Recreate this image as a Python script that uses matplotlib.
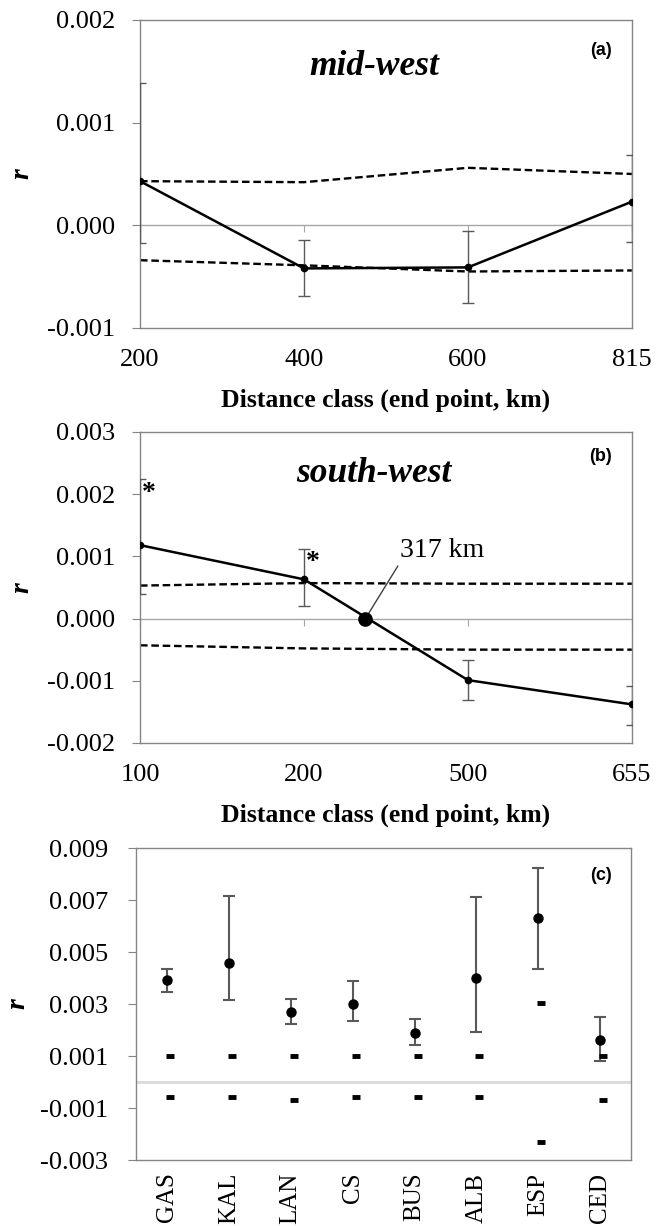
#Recreates the three-panel spatial autocorrelation figure:
#(a) mid-west and (b) south-west correlograms, (c) r per population
import matplotlib.pyplot as plt
import matplotlib.transforms as mtransforms
import matplotlib.ticker as ticker
import numpy as np

plt.rcParams['font.family'] = ['Liberation Serif', 'DejaVu Serif']

# (a) mid-west correlogram
mw_classes = ['200', '400', '600', '815']
mw_r = [0.00043, -0.00042, -0.00041, 0.00023]
mw_err_hi = [0.00139, -0.00014, -0.00006, 0.00068]
mw_err_lo = [-0.00017, -0.00069, -0.00076, -0.00016]
mw_upper = [0.00043, 0.00042, 0.00056, 0.00050]
mw_lower = [-0.00034, -0.00039, -0.00045, -0.00044]
mw_yticks = [-0.001, 0.0, 0.001, 0.002]

# (b) south-west correlogram
sw_classes = ['100', '200', '500', '655']
sw_r = [0.00118, 0.00063, -0.00099, -0.00138]
sw_err_hi = [0.00224, 0.00112, -0.00066, -0.00108]
sw_err_lo = [0.00040, 0.00020, -0.00131, -0.00171]
sw_upper = [0.00053, 0.00057, 0.00056, 0.00056]
sw_lower = [-0.00043, -0.00048, -0.00050, -0.00050]
sw_yticks = [-0.002, -0.001, 0.0, 0.001, 0.002, 0.003]
sw_cross = 1.375      #x-intercept on the class axis
sw_cross_label = '317 km'
sw_signif = [0, 1]    #classes marked with *

# (c) r per population
pops = ['GAS', 'KAL', 'LAN', 'CS', 'BUS', 'ALB', 'ESP', 'CED']
pop_r = [0.00392, 0.00457, 0.00269, 0.00302, 0.00190, 0.00401, 0.00629, 0.00161]
pop_hi = [0.00436, 0.00717, 0.00319, 0.00389, 0.00243, 0.00713, 0.00823, 0.00252]
pop_lo = [0.00346, 0.00316, 0.00224, 0.00234, 0.00143, 0.00192, 0.00436, 0.00079]
pop_upper = [0.00100, 0.00100, 0.00100, 0.00100, 0.00100, 0.00100, 0.00303, 0.00100]
pop_lower = [-0.00059, -0.00059, -0.00069, -0.00059, -0.00059, -0.00059, -0.00229, -0.00069]
pop_yticks = [-0.003, -0.001, 0.001, 0.003, 0.005, 0.007, 0.009]

spine_gray = '#858585'
err_gray = '#595959'
dash = (0, (3.2, 1.6))
fmt3 = ticker.FuncFormatter(lambda v, pos: '%.3f' % (round(v, 6) + 0.0))

fig = plt.figure(figsize=(6.62, 12.26), dpi=100)


def style_axes(ax, yticks):
    for sp in ax.spines.values():
        sp.set_color(spine_gray)
        sp.set_linewidth(1)
    ax.set_ylim(yticks[0], yticks[-1])
    ax.set_yticks(yticks)
    ax.yaxis.set_major_formatter(fmt3)
    ax.tick_params(axis='y', length=6, color=spine_gray, labelsize=19, pad=12)
    ax.tick_params(axis='x', length=0, labelsize=19)


def correlogram(ax, classes, r, hi, lo, upper, lower, yticks, title, tag, title_y, tag_y):
    x = np.arange(len(classes))
    r = np.array(r)
    yerr = [r - np.array(lo), np.array(hi) - r]
    style_axes(ax, yticks)

    ax.axhline(0, color='#a6a6a6', lw=1, zorder=1)
    ax.plot(x, upper, color='k', lw=1.7, ls=dash, zorder=2)
    ax.plot(x, lower, color='k', lw=1.7, ls=dash, zorder=2)
    ax.errorbar(x, r, yerr=yerr, fmt='none', ecolor=err_gray, elinewidth=1,
                capsize=4.5, capthick=1, zorder=3)
    ax.plot(x, r, color='k', lw=1.8, marker='o', ms=4.5, zorder=4)
    ax.set_xlim(0, len(classes) - 1)

    ax.set_xticks(x)
    ax.set_xticklabels(classes)
    ax.tick_params(axis='x', pad=15)
    ax.set_xlabel('Distance class (end point, km)', fontsize=18.5, fontweight='bold', labelpad=13)

    #tick marks where the class axis crosses r = 0
    zero_loc = (0 - yticks[0]) / (yticks[-1] - yticks[0])
    sec = ax.secondary_xaxis(zero_loc)
    sec.set_xticks(x)
    sec.tick_params(length=5, color='#a6a6a6', labelbottom=False, labeltop=False)
    for sp in sec.spines.values():
        sp.set_visible(False)

    ax.set_ylabel('r', fontsize=20, fontweight='bold', fontstyle='italic')
    ax.yaxis.set_label_coords(-0.215, 0.5)
    ax.text(0.476, title_y, title, transform=ax.transAxes, ha='center', va='center',
            fontsize=25.5, fontweight='bold', fontstyle='italic')
    ax.text(0.937, tag_y, tag, transform=ax.transAxes, ha='center', va='center',
            fontsize=13, fontweight='bold', family='Liberation Sans')


ax_a = fig.add_axes([0.2115, 0.7325, 0.743, 0.2512])
correlogram(ax_a, mw_classes, mw_r, mw_err_hi, mw_err_lo, mw_upper, mw_lower, mw_yticks,
            'mid-west', '(a)', 0.85, 0.90)

ax_b = fig.add_axes([0.2115, 0.394, 0.743, 0.2537])
correlogram(ax_b, sw_classes, sw_r, sw_err_hi, sw_err_lo, sw_upper, sw_lower, sw_yticks,
            'south-west', '(b)', 0.865, 0.92)

#x-intercept marker and label
ax_b.plot([sw_cross], [0], 'o', color='k', ms=9.5, zorder=5)
ax_b.annotate(sw_cross_label, xy=(sw_cross, 0), xytext=(1.84, 0.00109), fontsize=20,
              ha='center', va='center',
              arrowprops=dict(arrowstyle='-', color='#404040', lw=1, relpos=(0, 0),
                              shrinkA=0, shrinkB=4))
for i in sw_signif:
    ax_b.annotate('*', xy=(i, sw_err_hi[i]), xytext=(6, -10), textcoords='offset points',
                  ha='center', va='center', fontsize=20, fontweight='bold')

# (c)
ax_c = fig.add_axes([0.2054, 0.0538, 0.748, 0.2545])
style_axes(ax_c, pop_yticks)
ax_c.tick_params(axis='y', pad=14)
xc = np.arange(len(pops))
pr = np.array(pop_r)
ax_c.axhline(0, color='#d9d9d9', lw=2, zorder=1)
ax_c.errorbar(xc, pr, yerr=[pr - np.array(pop_lo), np.array(pop_hi) - pr], fmt='o', color='k',
              ms=6.5, ecolor=err_gray, elinewidth=1.5, capsize=4, capthick=1.5, zorder=3)
shift = ax_c.transData + mtransforms.ScaledTranslation(0.03, 0, fig.dpi_scale_trans)
ax_c.plot(xc, pop_upper, ls='none', marker='_', ms=6, mew=3.5, color='k', transform=shift, zorder=4)
ax_c.plot(xc, pop_lower, ls='none', marker='_', ms=6, mew=3.5, color='k', transform=shift, zorder=4)
ax_c.set_xlim(-0.5, len(pops) - 0.5)
ax_c.set_xticks(xc)
ax_c.set_xticklabels(pops, rotation=90, fontsize=18)
ax_c.tick_params(axis='x', pad=9)
ax_c.set_ylabel('r', fontsize=20, fontweight='bold', fontstyle='italic')
ax_c.yaxis.set_label_coords(-0.214, 0.5)
ax_c.text(0.939, 0.913, '(c)', transform=ax_c.transAxes, ha='center', va='center',
          fontsize=13, fontweight='bold', family='Liberation Sans')

plt.savefig('out.png', dpi=100)
plt.close()
